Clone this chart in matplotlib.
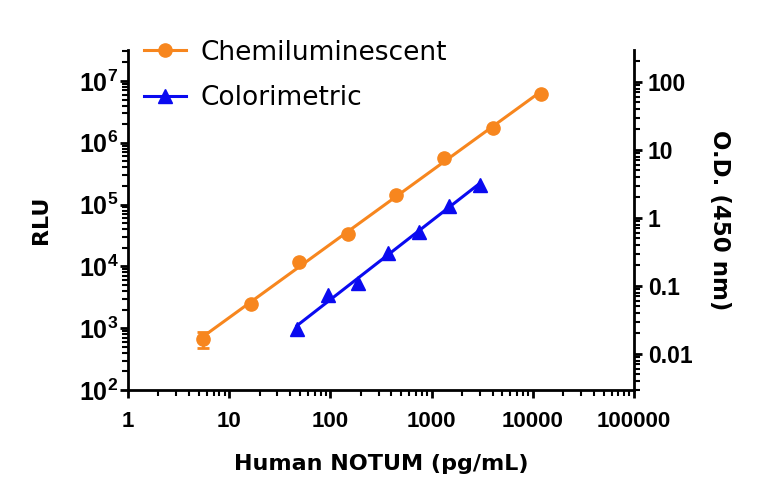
import numpy as np
import matplotlib
matplotlib.use("Agg")
import matplotlib.pyplot as plt
from matplotlib.ticker import LogLocator, FixedLocator, FixedFormatter, NullFormatter
from matplotlib.font_manager import FontProperties
from matplotlib.lines import Line2D

# Data
chemi_conc = [5.5, 16.5, 49.4, 148, 444, 1333, 4000, 12000]
chemi_rlu = [670, 2490, 11970, 34000, 141000, 562000, 1730000, 6150000]
chemi_err_lo = [190, 0, 0, 0, 0, 0, 0, 0]
chemi_err_hi = [210, 0, 0, 0, 0, 0, 0, 0]

color_conc = [46.9, 93.75, 187.5, 375, 750, 1500, 3000]
color_od = [0.0229, 0.0748, 0.112, 0.31, 0.632, 1.52, 3.10]

x_ticks = [1, 10, 100, 1000, 10000, 100000]
x_ticklabels = ["1", "10", "100", "1000", "10000", "100000"]
left_ticks = [1e2, 1e3, 1e4, 1e5, 1e6, 1e7]
left_ticklabels = [r"$\mathbf{10^{2}}$", r"$\mathbf{10^{3}}$", r"$\mathbf{10^{4}}$",
                   r"$\mathbf{10^{5}}$", r"$\mathbf{10^{6}}$", r"$\mathbf{10^{7}}$"]
right_ticks = [0.01, 0.1, 1, 10, 100]
right_ticklabels = ["0.01", "0.1", "1", "10", "100"]

ORANGE = "#F7861E"
BLUE = "#0A0AF0"

plt.rcParams['mathtext.fontset'] = 'custom'
plt.rcParams['mathtext.bf'] = 'Liberation Sans:bold'
plt.rcParams['mathtext.rm'] = 'Liberation Sans:bold'

fig = plt.figure(figsize=(7.68, 5.04), dpi=100)
ax = fig.add_axes([128/768, 114/504, (634-128)/768, 340/504])
ax2 = ax.twinx()

ax.set_xscale("log")
ax.set_yscale("log")
ax2.set_yscale("log")
ax.set_xlim(1, 100000)
ax.set_ylim(100, 10**7.5)
ax2.set_ylim(10**-2.53, 10**2.47)

# fitted lines in log-log space from data
def fitline(xs, ys):
    lx, ly = np.log10(xs), np.log10(ys)
    p = np.polyfit(lx, ly, 1)
    xx = np.array([lx.min(), lx.max()])
    return 10**xx, 10**np.polyval(p, xx)

fx, fy = fitline(np.array(chemi_conc), np.array(chemi_rlu))
ax.plot(fx, fy, color=ORANGE, lw=2.2, zorder=3)
ax.errorbar(chemi_conc, chemi_rlu, yerr=[chemi_err_lo, chemi_err_hi], fmt='o', color=ORANGE,
            ms=9.5, capsize=4, elinewidth=2, capthick=2, zorder=4)

bx, by = fitline(np.array(color_conc), np.array(color_od))
ax2.plot(bx, by, color=BLUE, lw=2.2, zorder=3)
ax2.plot(color_conc, color_od, '^', color=BLUE, ms=9.5, zorder=4)

# spines
for a in (ax, ax2):
    a.spines['top'].set_visible(False)
    for s in ('left', 'right', 'bottom'):
        a.spines[s].set_linewidth(2)
ax.spines['right'].set_visible(False)
ax2.spines['left'].set_visible(False)
ax2.spines['bottom'].set_visible(False)

narrow = ['Liberation Sans Narrow', 'Liberation Sans']

ax.xaxis.set_major_locator(FixedLocator(x_ticks))
ax.xaxis.set_major_formatter(FixedFormatter(x_ticklabels))
ax.xaxis.set_minor_locator(LogLocator(base=10, subs=np.arange(2, 10), numticks=20))
ax.xaxis.set_minor_formatter(NullFormatter())

ax.yaxis.set_major_locator(FixedLocator(left_ticks))
ax.yaxis.set_major_formatter(FixedFormatter(left_ticklabels))
ax.yaxis.set_minor_locator(LogLocator(base=10, subs=np.arange(2, 10), numticks=20))
ax.yaxis.set_minor_formatter(NullFormatter())

ax2.yaxis.set_major_locator(FixedLocator(right_ticks))
ax2.yaxis.set_major_formatter(FixedFormatter(right_ticklabels))
ax2.yaxis.set_minor_locator(LogLocator(base=10, subs=np.arange(2, 10), numticks=20))
ax2.yaxis.set_minor_formatter(NullFormatter())

for a in (ax, ax2):
    a.tick_params(which='major', length=6, width=2, direction='out')
    a.tick_params(which='minor', length=4, width=1.5, direction='out')
ax.tick_params(axis='y', labelsize=18, pad=1)
ax.tick_params(axis='x', pad=9)
for lab in ax.get_xticklabels():
    lab.set_fontproperties(FontProperties(family=narrow, weight="bold", size=16))
for lab in ax2.get_yticklabels():
    lab.set_fontproperties(FontProperties(family=narrow, weight="bold", size=16.5))
ax2.tick_params(axis='y', pad=4)

labelfont = dict(family="DejaVu Sans", weight="bold", size=16)
ax.set_xlabel("Human NOTUM (pg/mL)", fontdict=labelfont, labelpad=16)
ax.set_ylabel("RLU", fontdict=labelfont, labelpad=20)
ax2.set_ylabel("O.D. (450 nm)", fontdict=dict(family="DejaVu Sans", weight="bold", size=16.5),
               rotation=270, labelpad=28)

# legend
h1 = Line2D([], [], color=ORANGE, lw=2.2, marker='o', ms=9.5)
h2 = Line2D([], [], color=BLUE, lw=2.2, marker='^', ms=9.5)
leg = ax2.legend([h1, h2], ["Chemiluminescent", "Colorimetric"], loc='upper left',
                 bbox_to_anchor=(-0.005, 1.085), frameon=False, handlelength=1.6,
                 labelspacing=0.75, prop=dict(family="DejaVu Sans", size=19),
                 borderaxespad=0.3, handletextpad=0.55)

fig.savefig("out.png", dpi=100)
